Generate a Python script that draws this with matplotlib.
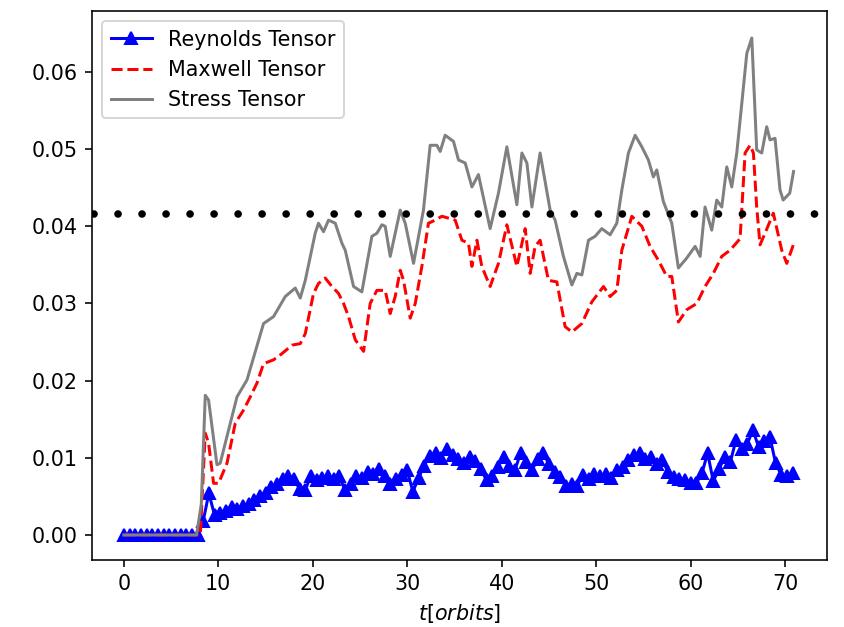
import numpy as np
import matplotlib
matplotlib.use("Agg")
import matplotlib.pyplot as plt

plt.rcParams['font.size'] = 10.3

# ---- data ----
t_stress = [0, 7.7, 8.2, 8.62, 8.97, 9.86, 10.2, 11.98, 13.04, 14.79, 15.85, 17.09, 18.15, 18.68,
            19.21, 20.26, 20.61, 21.14, 21.67, 22.38, 23.09, 23.44, 24.32, 25.2, 26.26, 26.79,
            27.32, 27.67, 28.2, 29.26, 29.79, 30.67, 31.72, 32.43, 33.14, 33.49, 34.02, 34.9,
            35.43, 36.14, 36.85, 37.54, 38.78, 39.66, 40.55, 41.61, 42.14, 42.67, 43.2, 44.07,
            45.13, 45.66, 46.54, 47.43, 47.96, 48.49, 49.19, 49.89, 50.6, 51.48, 52.19, 52.72,
            53.42, 54.13, 54.84, 55.53, 56.06, 56.42, 57.12, 58.01, 58.71, 59.6, 60.48, 61.01,
            61.53, 62.24, 62.77, 63.3, 63.83, 64.36, 64.89, 65.42, 65.95, 66.48, 67.0, 67.53,
            68.06, 68.41, 68.94, 69.47, 69.8, 70.5, 70.9]
stress = [0, 0, 0.004, 0.0181, 0.0175, 0.0091, 0.0093, 0.0179, 0.0201, 0.0274, 0.0283, 0.0309,
          0.0320, 0.0307, 0.0330, 0.0391, 0.0404, 0.0393, 0.0408, 0.0404, 0.0378, 0.0369, 0.0322,
          0.0315, 0.0387, 0.0391, 0.0402, 0.0400, 0.0361, 0.0421, 0.0404, 0.0352, 0.0421, 0.0505,
          0.0505, 0.0497, 0.0518, 0.0510, 0.0486, 0.0482, 0.0451, 0.0467, 0.0397, 0.0443, 0.0503,
          0.0428, 0.0495, 0.0482, 0.0425, 0.0495, 0.0421, 0.0408, 0.0361, 0.0324, 0.0339, 0.0337,
          0.0382, 0.0387, 0.0397, 0.0389, 0.0404, 0.0447, 0.0495, 0.0518, 0.0503, 0.0486, 0.0464,
          0.0473, 0.0432, 0.0404, 0.0346, 0.0359, 0.0374, 0.0361, 0.0425, 0.0395, 0.0434, 0.0425,
          0.0477, 0.0451, 0.0495, 0.0559, 0.0624, 0.0644, 0.0499, 0.0495, 0.0529, 0.0512, 0.0514,
          0.0447, 0.0434, 0.0443, 0.0471]

t_maxwell = [0, 8.1, 8.62, 8.97, 9.5, 10.03, 10.92, 11.8, 12.68, 13.39, 14.1, 14.79, 15.85, 16.74,
             17.8, 18.68, 19.21, 20.08, 20.61, 21.32, 22.03, 22.73, 23.26, 23.79, 24.5, 25.38,
             26.08, 26.79, 27.67, 28.2, 28.73, 29.26, 29.61, 30.32, 30.85, 31.55, 32.25, 32.96,
             33.67, 34.55, 35.08, 35.79, 36.49, 36.85, 37.38, 37.9, 38.78, 39.66, 40.55, 41.61,
             42.49, 43.02, 43.54, 44.07, 44.95, 45.84, 46.72, 47.43, 48.49, 49.54, 50.78, 51.48,
             52.19, 52.72, 53.78, 54.84, 55.71, 56.59, 57.48, 58.01, 58.71, 59.6, 60.66, 61.53,
             62.41, 63.3, 64.18, 65.24, 65.77, 66.3, 66.65, 67.0, 67.35, 67.88, 68.76, 69.65,
             70.18, 70.88]
maxwell = [0, 0, 0.0132, 0.0119, 0.0067, 0.0067, 0.0093, 0.0145, 0.0162, 0.0179, 0.0197, 0.0222,
           0.0227, 0.0235, 0.0246, 0.0248, 0.0261, 0.0313, 0.0326, 0.0333, 0.0322, 0.0313, 0.0300,
           0.0283, 0.0253, 0.0238, 0.0300, 0.0317, 0.0317, 0.0287, 0.0309, 0.0343, 0.0330, 0.0281,
           0.0300, 0.0348, 0.0404, 0.0408, 0.0413, 0.0410, 0.0408, 0.0382, 0.0378, 0.0348, 0.0382,
           0.0348, 0.0322, 0.0352, 0.0402, 0.0348, 0.0397, 0.0339, 0.0374, 0.0382, 0.0330, 0.0328,
           0.0270, 0.0263, 0.0274, 0.0302, 0.0322, 0.0309, 0.0317, 0.0369, 0.0413, 0.0400, 0.0374,
           0.0356, 0.0335, 0.0335, 0.0276, 0.0292, 0.0300, 0.0322, 0.0339, 0.0361, 0.0369, 0.0384,
           0.0495, 0.0505, 0.0495, 0.0425, 0.0376, 0.0391, 0.0417, 0.0369, 0.0352, 0.0376]

reynolds = [0, 0, 0, 0, 0, 0, 0, 0, 0, 0, 0, 0, 0, 0,
            0.0018, 0.0054, 0.0026, 0.0029, 0.0031, 0.0036, 0.0034, 0.0038, 0.0040, 0.0045,
            0.0050, 0.0054, 0.0062, 0.0066, 0.0072, 0.0077, 0.0072, 0.0060, 0.0058, 0.0077,
            0.0071, 0.0074, 0.0076, 0.0073, 0.0077, 0.0058, 0.0066, 0.0076, 0.0074, 0.0081,
            0.0079, 0.0085, 0.0077, 0.0066, 0.0073, 0.0078, 0.0084, 0.0056, 0.0074, 0.0090,
            0.0103, 0.0106, 0.0100, 0.0112, 0.0104, 0.0098, 0.0093, 0.0101, 0.0096, 0.0085,
            0.0071, 0.0076, 0.0088, 0.0101, 0.0090, 0.0084, 0.0106, 0.0094, 0.0084, 0.0098,
            0.0106, 0.0092, 0.0082, 0.0075, 0.0063, 0.0066, 0.0064, 0.0078, 0.0072, 0.0079,
            0.0076, 0.0079, 0.0074, 0.0084, 0.0088, 0.0097, 0.0104, 0.0106, 0.0098, 0.0101,
            0.0092, 0.0097, 0.0082, 0.0075, 0.0072, 0.0071, 0.0068, 0.0067, 0.0080, 0.0106,
            0.0070, 0.0085, 0.0101, 0.0094, 0.0123, 0.0112, 0.0118, 0.0136, 0.0114, 0.0122,
            0.0127, 0.0093, 0.0078, 0.0076, 0.0080]
t_reynolds = np.arange(len(reynolds)) * 0.6

threshold = 0.0416

# ---- figure ----
fig = plt.figure(figsize=(844 / 144, 627 / 144), dpi=144)
ax = fig.add_axes([92 / 844, 1 - 560 / 627, (826.7 - 92) / 844, (560 - 11) / 627])

ax.plot(t_reynolds, reynolds, color='b', marker='^', markersize=6, linewidth=1.5,
        label='Reynolds Tensor')
ax.plot(t_maxwell, maxwell, 'r--', linewidth=1.5, label='Maxwell Tensor')
ax.plot(t_stress, stress, color='gray', linewidth=1.5, label='Stress Tensor')

ax.axhline(threshold, color='k', linewidth=3.8, linestyle=(2.9, (0.01, 3.15)),
           dash_capstyle='round')

ax.set_xlim(-3.37, 74.41)
ax.set_ylim(-0.00324, 0.0679)
ax.set_xticks([0, 10, 20, 30, 40, 50, 60, 70])
ax.set_yticks([0.0, 0.01, 0.02, 0.03, 0.04, 0.05, 0.06])
ax.set_yticklabels(['0.00', '0.01', '0.02', '0.03', '0.04', '0.05', '0.06'])
ax.set_xlabel(r'$t[orbits]$')
ax.legend(loc='upper left')

fig.savefig('out.png', dpi=144)
